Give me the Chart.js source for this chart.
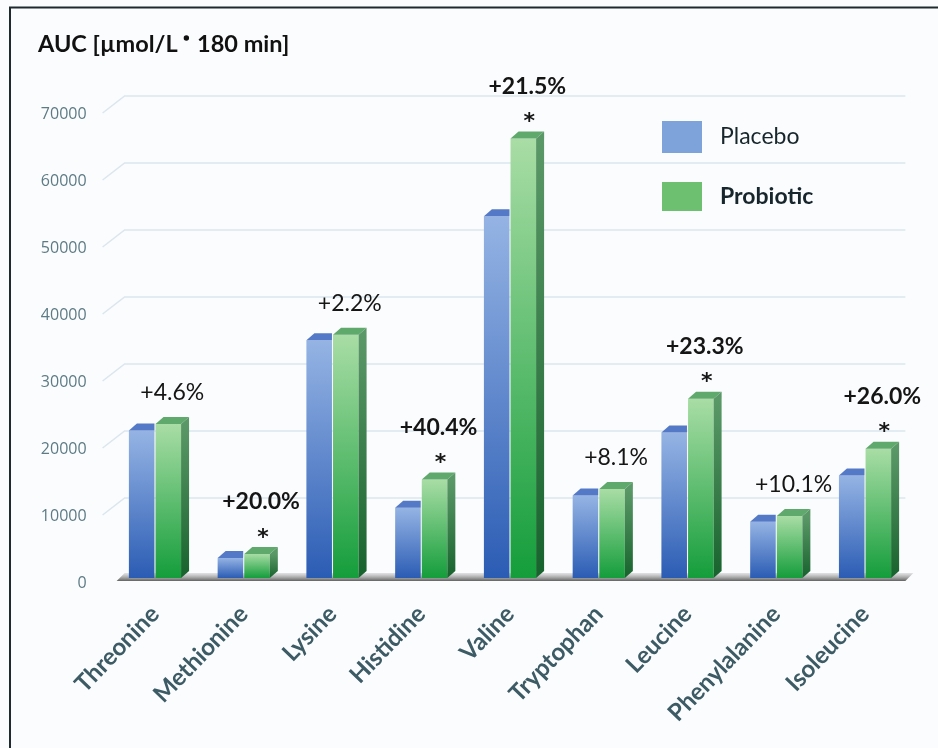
<!DOCTYPE html>
<html>
<head>
<meta charset="utf-8">
<title>AUC amino acids</title>
<script src="https://cdn.jsdelivr.net/npm/chart.js@4.4.1/dist/chart.umd.min.js"></script>
<style>
  html, body { margin: 0; padding: 0; background: #fbfcfe; }
  #wrap { position: relative; width: 938px; height: 748px; }
</style>
</head>
<body>
<div id="wrap"><canvas id="aucChart"></canvas></div>
<script>
// Data
const aminoAcids = ['Threonine', 'Methionine', 'Lysine', 'Histidine', 'Valine',
                    'Tryptophan', 'Leucine', 'Phenylalanine', 'Isoleucine'];
const placeboAUC   = [22000, 3000, 35500, 10500, 54000, 12300, 21700, 8400, 15300];
const probioticAUC = [23000, 3600, 36300, 14700, 65600, 13300, 26750, 9250, 19300];
const changeLabels = ['+4.6%', '+20.0%', '+2.2%', '+40.4%', '+21.5%', '+8.1%', '+23.3%', '+10.1%', '+26.0%'];
const significant  = [false, true, false, true, true, false, true, false, true];
const yTicks = [0, 10000, 20000, 30000, 40000, 50000, 60000, 70000];

const FONT = 'Lato, "Open Sans", sans-serif';
const DEPTH_X = 8;
const DEPTH_Y = 7;

/**
 * Vertical gradient for the front face of a bar
 */
function frontGradient(topColor, bottomColor) {
    return (context) => {
        const chart = context.chart;
        if (!chart.chartArea || context.raw === undefined) return bottomColor;
        const yTop = chart.scales.y.getPixelForValue(context.raw);
        const g = chart.ctx.createLinearGradient(0, yTop, 0, chart.chartArea.bottom);
        g.addColorStop(0, topColor);
        g.addColorStop(1, bottomColor);
        return g;
    };
}

function poly(ctx, pts, fill) {
    ctx.beginPath();
    ctx.moveTo(pts[0][0], pts[0][1]);
    for (let i = 1; i < pts.length; i++) ctx.lineTo(pts[i][0], pts[i][1]);
    ctx.closePath();
    ctx.fillStyle = fill;
    ctx.fill();
}

// Background, frame, title, back-wall grid and floor
const backdropPlugin = {
    id: 'backdrop',
    beforeDraw(chart) {
        const { ctx, width, height } = chart;
        ctx.save();
        ctx.fillStyle = '#fbfcfe';
        ctx.fillRect(0, 0, width, height);
        ctx.strokeStyle = '#1e2a2e';
        ctx.lineWidth = 2;
        ctx.beginPath();
        ctx.moveTo(10, height);
        ctx.lineTo(10, 7.5);
        ctx.lineTo(width, 7.5);
        ctx.stroke();

        // title, with a small raised bullet
        ctx.fillStyle = '#111';
        ctx.textBaseline = 'alphabetic';
        ctx.font = 'bold 23.5px ' + FONT;
        let x = 38;
        const part1 = 'AUC [\u00b5mol/L ';
        ctx.fillText(part1, x, 52);
        x += ctx.measureText(part1).width;
        ctx.beginPath();
        ctx.arc(x + 3, 38, 2.7, 0, Math.PI * 2);
        ctx.fill();
        x += 8;
        ctx.fillText(' 180 min]', x, 52);
        ctx.restore();
    },
    beforeDatasetsDraw(chart) {
        const { ctx, chartArea } = chart;
        const y = chart.scales.y;
        ctx.save();
        ctx.strokeStyle = '#dbe6ee';
        ctx.lineWidth = 1.5;
        yTicks.slice(1).forEach(v => {
            const py = y.getPixelForValue(v);
            ctx.beginPath();
            ctx.moveTo(chartArea.left - 8, py + 4);
            ctx.lineTo(chartArea.left + 14, py - 13);
            ctx.lineTo(chartArea.right - 4, py - 13);
            ctx.stroke();
        });
        // floor shadow
        const base = y.getPixelForValue(0);
        const g = ctx.createLinearGradient(0, base - 5, 0, base + 3);
        g.addColorStop(0, 'rgba(150,150,150,0.25)');
        g.addColorStop(1, 'rgba(70,70,70,0.85)');
        poly(ctx, [[chartArea.left + 6, base + 3], [chartArea.right - 4, base + 3],
                   [chartArea.right + 4, base - 5], [chartArea.left + 14, base - 5]], g);
        ctx.restore();
    }
};

// Top and side faces of the bars, legend and change labels
const bars3dPlugin = {
    id: 'bars3d',
    afterDatasetsDraw(chart) {
        const { ctx } = chart;
        const metaP = chart.getDatasetMeta(0);
        const metaB = chart.getDatasetMeta(1);
        ctx.save();
        metaP.data.forEach(bar => {
            const l = bar.x - bar.width / 2, r = bar.x + bar.width / 2;
            ctx.save();
            ctx.beginPath();
            ctx.rect(l - 1, 0, r - l + 1, bar.base);
            ctx.clip();
            poly(ctx, [[l, bar.y], [r, bar.y], [r + DEPTH_X, bar.y - DEPTH_Y], [l + DEPTH_X, bar.y - DEPTH_Y]], '#5479c6');
            ctx.restore();
        });
        metaB.data.forEach((bar, i) => {
            const l = bar.x - bar.width / 2, r = bar.x + bar.width / 2;
            poly(ctx, [[l, bar.y], [r, bar.y], [r + DEPTH_X, bar.y - DEPTH_Y], [l + DEPTH_X, bar.y - DEPTH_Y]], '#5fa96c');
            const sg = ctx.createLinearGradient(0, bar.y, 0, bar.base);
            sg.addColorStop(0, '#5b9868');
            sg.addColorStop(1, '#17632d');
            poly(ctx, [[r, bar.y], [r + DEPTH_X, bar.y - DEPTH_Y], [r + DEPTH_X, bar.base - DEPTH_Y], [r, bar.base]], sg);

            // change label and significance star
            const cx = bar.x + 4;
            ctx.fillStyle = '#151515';
            ctx.textAlign = 'center';
            ctx.textBaseline = 'middle';
            if (significant[i]) {
                ctx.font = 'bold 23px ' + FONT;
                ctx.fillText(changeLabels[i], cx, bar.y - 52);
                ctx.font = 'bold 22px "DejaVu Sans", sans-serif';
                ctx.fillText('*', cx + 2, bar.y - 16);
            } else {
                ctx.font = '23px ' + FONT;
                ctx.fillText(changeLabels[i], cx, bar.y - 31);
            }
        });

        // legend
        ctx.fillStyle = '#7ea2da';
        ctx.fillRect(662, 121, 40, 32);
        ctx.fillStyle = '#6cc070';
        ctx.fillRect(662, 182, 40, 29);
        ctx.fillStyle = '#17262c';
        ctx.textAlign = 'left';
        ctx.textBaseline = 'middle';
        ctx.font = '23px ' + FONT;
        ctx.fillText('Placebo', 720, 137);
        ctx.font = 'bold 23px ' + FONT;
        ctx.fillText('Probiotic', 720, 197);
        ctx.restore();
    }
};

function initChart() {
    const ctx = document.getElementById('aucChart').getContext('2d');
    new Chart(ctx, {
        type: 'bar',
        data: {
            labels: aminoAcids,
            datasets: [
                {
                    label: 'Placebo',
                    data: placeboAUC,
                    backgroundColor: frontGradient('#95b4e4', '#2b5cb4'),
                    borderWidth: 0,
                    categoryPercentage: 0.6,
                    barPercentage: 0.96
                },
                {
                    label: 'Probiotic',
                    data: probioticAUC,
                    backgroundColor: frontGradient('#a9dda5', '#149d3b'),
                    borderWidth: 0,
                    categoryPercentage: 0.6,
                    barPercentage: 0.96
                }
            ]
        },
        options: {
            responsive: true,
            maintainAspectRatio: false,
            animation: false,
            events: [],
            layout: { padding: { left: 0, right: 28.6, top: 109, bottom: 0 } },
            plugins: {
                legend: { display: false },
                title: { display: false },
                tooltip: { enabled: false }
            },
            scales: {
                x: {
                    grid: { display: false },
                    border: { display: false },
                    ticks: {
                        autoSkip: false,
                        minRotation: 46,
                        maxRotation: 46,
                        padding: 14,
                        color: '#3d5b65',
                        font: { family: FONT, size: 24, weight: 'bold' }
                    },
                    afterFit(scale) { scale.height = 170; }
                },
                y: {
                    min: 0,
                    max: 70000,
                    grid: { display: false },
                    border: { display: false },
                    afterBuildTicks(scale) { scale.ticks = yTicks.map(v => ({ value: v })); },
                    ticks: {
                        padding: 16,
                        labelOffset: 5,
                        color: '#5d7b84',
                        font: { family: '"Open Sans", sans-serif', size: 16 },
                        callback: (value) => String(value)
                    },
                    afterFit(scale) { scale.width = 110.6; }
                }
            }
        },
        plugins: [backdropPlugin, bars3dPlugin]
    });
}

document.addEventListener('DOMContentLoaded', initChart);
</script>
</body>
</html>
